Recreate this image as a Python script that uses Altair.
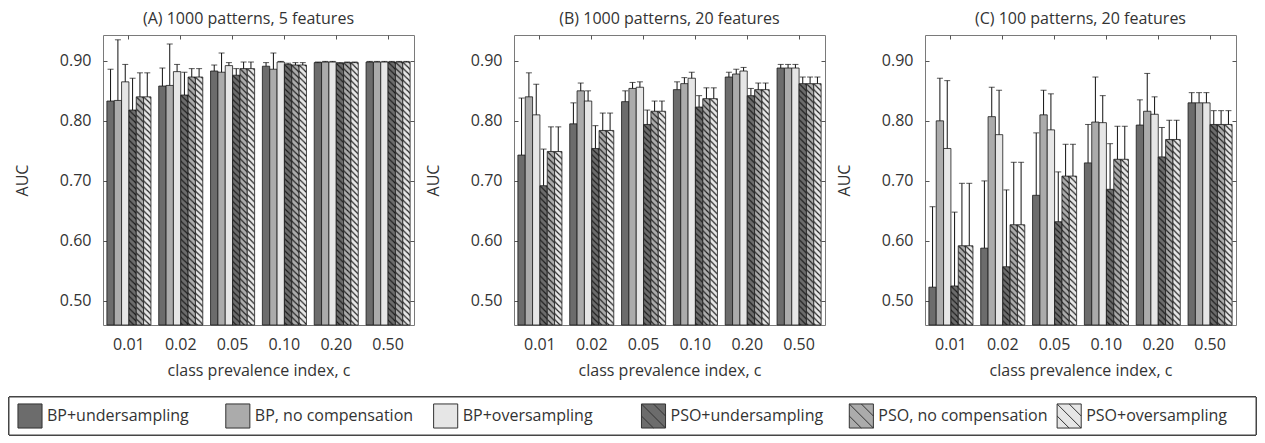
import base64
import altair as alt
import pandas as pd

# ---------------- data ----------------
categories = ["0.01", "0.02", "0.05", "0.10", "0.20", "0.50"]
series = ["BP+undersampling", "BP, no compensation", "BP+oversampling",
          "PSO+undersampling", "PSO, no compensation", "PSO+oversampling"]
hatched = [False, False, False, True, True, True]
fills = ["#6c6c6c", "#ababab", "#e6e6e6", "#6c6c6c", "#ababab", "#e6e6e6"]

titles = ["(A) 1000 patterns, 5 features",
          "(B) 1000 patterns, 20 features",
          "(C) 100 patterns, 20 features"]

# Panel A: mean AUC per series (rows follow `series`), columns follow `categories`
A_mean = [
    [0.833, 0.858, 0.883, 0.891, 0.897, 0.898],
    [0.834, 0.859, 0.881, 0.886, 0.898, 0.898],
    [0.865, 0.882, 0.892, 0.898, 0.898, 0.898],
    [0.818, 0.843, 0.876, 0.894, 0.896, 0.898],
    [0.840, 0.873, 0.887, 0.893, 0.897, 0.898],
    [0.840, 0.873, 0.887, 0.893, 0.897, 0.898],
]
A_err = [
    [0.053, 0.030, 0.010, 0.006, 0.001, 0.001],
    [0.101, 0.069, 0.032, 0.027, 0.001, 0.001],
    [0.029, 0.012, 0.005, 0.001, 0.001, 0.001],
    [0.053, 0.038, 0.011, 0.002, 0.001, 0.001],
    [0.040, 0.014, 0.011, 0.004, 0.001, 0.001],
    [0.040, 0.014, 0.011, 0.004, 0.001, 0.001],
]

# Panel B
B_mean = [
    [0.743, 0.795, 0.832, 0.852, 0.873, 0.888],
    [0.840, 0.850, 0.854, 0.862, 0.878, 0.888],
    [0.810, 0.833, 0.856, 0.871, 0.883, 0.888],
    [0.692, 0.754, 0.794, 0.823, 0.842, 0.862],
    [0.749, 0.784, 0.816, 0.837, 0.852, 0.862],
    [0.749, 0.784, 0.816, 0.837, 0.852, 0.862],
]
B_err = [
    [0.095, 0.035, 0.018, 0.013, 0.008, 0.006],
    [0.040, 0.013, 0.010, 0.010, 0.008, 0.006],
    [0.051, 0.017, 0.009, 0.010, 0.006, 0.006],
    [0.061, 0.038, 0.024, 0.019, 0.012, 0.011],
    [0.041, 0.029, 0.017, 0.018, 0.011, 0.011],
    [0.041, 0.029, 0.017, 0.018, 0.011, 0.011],
]

# Panel C
C_mean = [
    [0.523, 0.588, 0.676, 0.730, 0.793, 0.830],
    [0.800, 0.807, 0.810, 0.798, 0.816, 0.830],
    [0.754, 0.777, 0.785, 0.797, 0.811, 0.830],
    [0.525, 0.557, 0.632, 0.686, 0.740, 0.794],
    [0.592, 0.627, 0.708, 0.736, 0.769, 0.794],
    [0.592, 0.627, 0.708, 0.736, 0.769, 0.794],
]
C_err = [
    [0.134, 0.112, 0.104, 0.064, 0.042, 0.017],
    [0.071, 0.049, 0.041, 0.075, 0.063, 0.017],
    [0.113, 0.074, 0.060, 0.045, 0.029, 0.017],
    [0.123, 0.128, 0.083, 0.076, 0.049, 0.023],
    [0.104, 0.104, 0.053, 0.055, 0.032, 0.023],
    [0.104, 0.104, 0.053, 0.055, 0.032, 0.023],
]

y_ticks = [0.50, 0.60, 0.70, 0.80, 0.90]
y_domain = [0.46, 0.943]

# ---------------- styling helpers ----------------
FONT = "Open Sans"
TXT = "#333333"
W, H = 311, 290
LEG_LEFT, LEG_RIGHT, LEG_H = -94, 1153, 38   # legend frame, relative to panel A's plot origin
STEP = (LEG_RIGHT - LEG_LEFT) / len(series)

hatch_svg = (
    "<svg xmlns='http://www.w3.org/2000/svg' width='100%' height='100%'>"
    "<defs><pattern id='h' patternUnits='userSpaceOnUse' width='6' height='6'>"
    "<path d='M-1,-1L7,7M-1,5L1,7M5,-1L7,1' stroke='#1a1a1a' stroke-width='1.1' fill='none'/>"
    "</pattern></defs><rect width='100%' height='100%' fill='url(#h)'/></svg>"
)
hatch_url = "data:image/svg+xml;base64," + base64.b64encode(hatch_svg.encode()).decode()

hatch_path = "M-1,-1H1V1H-1Z M-1,-1L1,1 M0,-1L1,0 M-1,0L0,1"
shapes = ["square" if not h else hatch_path for h in hatched]

color = alt.Color("series:N", sort=series,
                  scale=alt.Scale(domain=series, range=fills), legend=None)


def make_df(mean, err):
    rows = []
    for si, s in enumerate(series):
        for ci, c in enumerate(categories):
            rows.append({
                "c": c, "series": s, "auc": mean[si][ci],
                "top": mean[si][ci] + err[si][ci],
                "hatch": hatched[si], "url": hatch_url,
            })
    return pd.DataFrame(rows)


def panel(mean, err, title, dx=0):
    df = make_df(mean, err)
    x = alt.X("c:N", sort=categories,
              scale=alt.Scale(domain=categories, paddingInner=0.15, paddingOuter=0.075),
              axis=alt.Axis(title="class prevalence index, c", labelAngle=0, ticks=False,
                            domain=False, grid=True, bandPosition=0.5,
                            gridDash=[4, H - 8, 4, 3000], gridColor="#555555",
                            labelPadding=11, titlePadding=10))
    xo = alt.XOffset("series:N", sort=series,
                     scale=alt.Scale(domain=series, paddingInner=0, paddingOuter=0))
    y = alt.Y("auc:Q", scale=alt.Scale(domain=y_domain, nice=False, zero=False),
              axis=alt.Axis(title="AUC", values=y_ticks, format=".2f", ticks=False,
                            domain=False, grid=True, gridDash=[4, W - 8, 4, 3000],
                            gridColor="#555555", labelPadding=12, titlePadding=29))
    base = alt.Chart(df)
    bars = base.mark_bar(stroke="#1a1a1a", strokeWidth=0.8).encode(
        x=x, xOffset=xo, y=y, y2=alt.datum(y_domain[0]), color=color,
    )
    hatch = base.transform_filter("datum.hatch").mark_image(aspect=False).encode(
        x=x, xOffset=xo, y="auc:Q", y2=alt.datum(y_domain[0]), url="url:N",
    )
    rules = base.mark_rule(color="#111111", strokeWidth=1).encode(
        x=x, xOffset=xo, y="auc:Q", y2="top:Q",
    )
    caps = base.mark_tick(color="#111111", thickness=1, size=6).encode(
        x=x, xOffset=xo, y="top:Q",
    )
    return alt.layer(bars, hatch, rules, caps).properties(
        width=W, height=H,
        title=alt.TitleParams(title, fontSize=16, font=FONT, fontWeight="normal",
                              color=TXT, offset=8, dx=dx),
    )


# ---------------- legend row ----------------
leg_df = pd.DataFrame({"series": series})
lx = alt.X("series:N", sort=series,
           scale=alt.Scale(domain=series, range=[LEG_LEFT, LEG_RIGHT],
                           paddingInner=0, paddingOuter=0), axis=None)
frame = alt.Chart(leg_df).mark_rect(
    fill="white", stroke="#444444", strokeWidth=1,
).encode(
    x=alt.value(LEG_LEFT), x2=alt.value(LEG_RIGHT), y=alt.value(0), y2=alt.value(LEG_H),
)
leg_sym = alt.Chart(leg_df).mark_point(
    filled=True, size=580, stroke="#333333", strokeWidth=1, opacity=1,
    xOffset=21 - STEP / 2,
).encode(
    x=lx, color=color,
    shape=alt.Shape("series:N", sort=series,
                    scale=alt.Scale(domain=series, range=shapes), legend=None),
)
leg_txt = alt.Chart(leg_df).mark_text(
    align="left", baseline="middle", dx=38 - STEP / 2, font=FONT, fontSize=16, color=TXT,
).encode(x=lx, text="series:N")
legend_row = alt.layer(frame, leg_sym, leg_txt).properties(
    width=LEG_RIGHT, height=LEG_H,
    view=alt.ViewBackground(strokeOpacity=0),
)

top_row = alt.hconcat(
    panel(A_mean, A_err, titles[0], dx=-10),
    panel(B_mean, B_err, titles[1]),
    panel(C_mean, C_err, titles[2]),
    spacing=9,
)

chart = alt.vconcat(top_row, legend_row, spacing=17).properties(
    padding={"left": 0, "top": 2, "right": 0, "bottom": 0},
).configure_view(
    stroke="#7a7a7a", strokeWidth=1,
).configure_axis(
    labelFont=FONT, labelFontSize=16, labelColor=TXT,
    titleFont=FONT, titleFontSize=16, titleColor=TXT, titleFontWeight="normal",
)

chart.save("out.html", embed_options={"renderer": "svg", "actions": False})
